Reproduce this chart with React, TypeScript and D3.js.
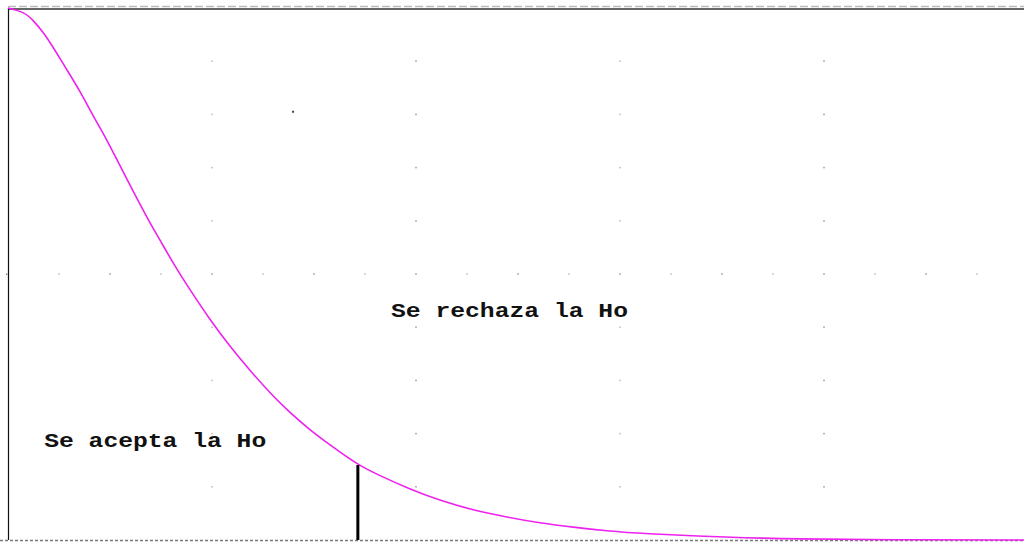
import React from 'react';
import * as d3 from 'd3';

// curve (x in grid units, y in tenths of the plot height)
const curveX = [0, 0.33, 0.49, 0.69, 0.88, 1.16, 1.41, 1.67, 1.94, 2.14, 2.39, 2.73, 2.98, 3.27, 3.57, 3.96, 4.35, 4.75, 5.14, 5.53, 5.92, 6.31, 6.86, 7.29, 7.82, 8.47, 9.12, 9.78, 10.43, 11.08, 11.75, 12.39, 14.16, 15.33, 17.8, 20];
const curveY = [10, 9.92, 9.77, 9.55, 9.27, 8.83, 8.44, 7.97, 7.52, 7.14, 6.67, 6.05, 5.64, 5.15, 4.7, 4.14, 3.64, 3.18, 2.76, 2.39, 2.07, 1.79, 1.41, 1.21, 0.98, 0.74, 0.56, 0.43, 0.32, 0.24, 0.17, 0.12, 0.05, 0.02, 0, 0];

const critical = 6.86;
const criticalHeight = 1.41;

const majorCols = [4, 8, 12, 16];
const majorRows = [1, 2, 3, 4, 6, 7, 8, 9];
const midRow = 5;
const midCols = [1, 2, 3, 4, 5, 6, 7, 8, 9, 10, 11, 12, 13, 14, 15, 16, 17, 18, 19];

const labels = [
  { text: 'Se rechaza la Ho', x: 7.51, y: 4.2, width: 237 },
  { text: 'Se acepta la Ho', x: 0.71, y: 1.75, width: 222 },
];

export default function App() {
  const W = 1024, H = 542;
  const x = d3.scaleLinear().domain([0, 20]).range([8, 1028]);
  const y = d3.scaleLinear().domain([0, 10]).range([540, 8]);

  const pts: [number, number][] = curveX.map((v, i) => [v, curveY[i]]);
  const line = d3.line<[number, number]>()
    .x(d => x(d[0]))
    .y(d => y(d[1]))
    .curve(d3.curveBasis);

  const dots: { u: number; v: number }[] = [];
  majorRows.forEach(v => majorCols.forEach(u => dots.push({ u, v })));
  midCols.forEach(u => dots.push({ u, v: midRow }));

  return (
    <svg width={W} height={H} style={{ position: 'absolute', left: 0, top: 0, background: '#fff' }}>
      {/* frame */}
      <line x1={x(0)} x2={W} y1={6.5} y2={6.5} stroke="#bbb" strokeWidth={1.5} strokeDasharray="8,3" />
      <line x1={x(0)} x2={W} y1={y(10) + 1} y2={y(10) + 1} stroke="#333" strokeWidth={1.5} />
      <line x1={x(0) + 0.5} x2={x(0) + 0.5} y1={y(10)} y2={y(0)} stroke="#111" strokeWidth={1.2} />
      <line x1={0} x2={W} y1={y(0) + 0.5} y2={y(0) + 0.5} stroke="#777" strokeWidth={1.5} strokeDasharray="3,2" />
      <rect x={x(0) - 2} y={y(midRow) - 0.5} width={1.5} height={1.5} fill="#888" />

      {/* grid dots */}
      {dots.map((d, i) => (
        <rect key={i} x={x(d.u) - 0.75} y={y(d.v) - 0.75} width={1.5} height={1.5} fill={i % 2 ? '#999' : '#bbb'} />
      ))}
      <rect x={x(5.59) - 1} y={y(8.05) - 1} width={2} height={2} fill="#444" />

      {/* density curve */}
      <path d={line(pts) || ''} fill="none" stroke="#ee22ee" strokeWidth={1.6} />

      {/* critical value */}
      <line x1={x(critical)} x2={x(critical)} y1={y(criticalHeight)} y2={y(0)} stroke="#000" strokeWidth={3} />

      {labels.map(l => (
        <text key={l.text} x={x(l.x)} y={y(l.y)} fontFamily="'Liberation Mono', 'Courier New', monospace"
          fontWeight="bold" fontSize={20} fill="#111" textLength={l.width} lengthAdjust="spacingAndGlyphs">
          {l.text}
        </text>
      ))}
    </svg>
  );
}
